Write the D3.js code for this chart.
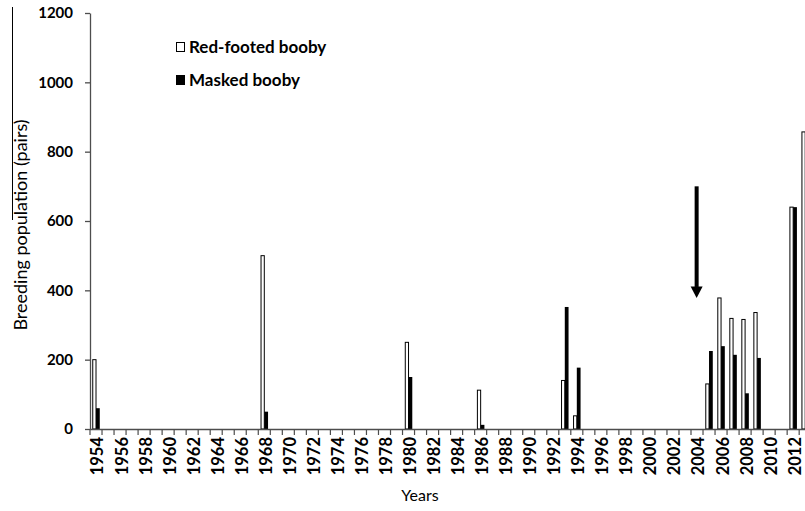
<!DOCTYPE html>
<html>
<head>
<meta charset="utf-8">
<script src="https://cdn.jsdelivr.net/npm/d3@7"></script>
<style>
  html, body { margin: 0; padding: 0; background: #fff; }
  svg { display: block; }
  text { font-family: Lato, "Open Sans", sans-serif; fill: #000; }
</style>
</head>
<body>
<svg id="chart" width="805" height="511"></svg>
<script>
// ---- data ----
const years = [
  1954,1955,1956,1957,1958,1959,1960,1961,1962,1963,
  1964,1965,1966,1967,1968,1969,1970,1971,1972,1973,
  1974,1975,1976,1977,1978,1979,1980,1981,1982,1983,
  1984,1985,1986,1987,1988,1989,1990,1991,1992,1993,
  1994,1995,1996,1997,1998,1999,2000,2001,2002,2003,
  2004,2005,2006,2007,2008,2009,2010,2011,2012,2013
];
const redFooted = [
  200,null,null,null,null,null,null,null,null,null,
  null,null,null,null,500,null,null,null,null,null,
  null,null,null,null,null,null,250,null,null,null,
  null,null,112,null,null,null,null,null,null,140,
  38,null,null,null,null,null,null,null,null,null,
  null,130,378,319,316,336,null,null,640,857
];
const masked = [
  60,null,null,null,null,null,null,null,null,null,
  null,null,null,null,50,null,null,null,null,null,
  null,null,null,null,null,null,150,null,null,null,
  null,null,12,null,null,null,null,null,null,352,
  177,null,null,null,null,null,null,null,null,null,
  null,225,239,214,103,205,null,null,640,null
];
const seriesNames = ["Red-footed booby", "Masked booby"];
const yTicks = [0, 200, 400, 600, 800, 1000, 1200];
const xLabelYears = years.filter(y => y % 2 === 0);
// annotation arrow (year, from value, to value)
const arrowYear = 2004, arrowFrom = 700, arrowTo = 378;

// ---- layout ----
const svg = d3.select("#chart");
const x0 = 90, yBase = 429, yTop = 13, step = 12.02;
const x = d3.scaleBand().domain(years)
  .range([x0, x0 + step * years.length])
  .paddingInner(0.375).paddingOuter(0.1875);
const xs = d3.scaleBand().domain(seriesNames).range([0, x.bandwidth()]);
const y = d3.scaleLinear().domain([0, 1200]).range([yBase, yTop]);
const axisColor = "#4d4d4d";

// bars
const rows = years.map((yr, i) => ({yr, r: redFooted[i], m: masked[i]}));
const g = svg.append("g");
g.selectAll("rect.red").data(rows.filter(d => d.r != null && d.r > 0)).join("rect")
  .attr("class", "red")
  .attr("x", d => x(d.yr) + xs(seriesNames[0]) + 0.5)
  .attr("width", xs.bandwidth() - 0.5)
  .attr("y", d => y(d.r))
  .attr("height", d => y(0) - y(d.r))
  .attr("fill", "#fff").attr("stroke", "#000").attr("stroke-width", 1);
g.selectAll("rect.msk").data(rows.filter(d => d.m != null && d.m > 0)).join("rect")
  .attr("class", "msk")
  .attr("x", d => x(d.yr) + xs(seriesNames[1]))
  .attr("width", xs.bandwidth())
  .attr("y", d => y(d.m))
  .attr("height", d => y(0) - y(d.m))
  .attr("fill", "#000");

// y axis
const yAxis = svg.append("g").attr("transform", `translate(${x0},0)`)
  .call(d3.axisLeft(y).tickValues(yTicks).tickFormat(d3.format("d"))
    .tickSize(5).tickPadding(12).tickSizeOuter(0));
yAxis.select(".domain").attr("stroke", axisColor).attr("stroke-width", 1.3);
yAxis.selectAll(".tick line").attr("stroke", axisColor).attr("stroke-width", 1.3);
yAxis.selectAll(".tick text").style("font-family", "Lato, sans-serif")
  .style("font-size", "15px").style("font-weight", "bold").attr("fill", "#000");

// x axis: ticks at category boundaries
const xAxis = svg.append("g").attr("transform", `translate(0,${yBase})`)
  .call(d3.axisBottom(x).tickSize(6).tickFormat("").tickSizeOuter(0));
xAxis.select(".domain").attr("stroke", axisColor).attr("stroke-width", 1.3)
  .attr("d", `M${x0},0.5H805`);
xAxis.selectAll(".tick line").attr("stroke", axisColor).attr("stroke-width", 1.2)
  .attr("transform", `translate(${-step / 2},0)`);

// x labels (every 2 years)
const xLab = svg.append("g").attr("transform", `translate(0,${yBase})`)
  .call(d3.axisBottom(x).tickValues(xLabelYears).tickSize(0).tickSizeOuter(0));
xLab.select(".domain").remove();
xLab.selectAll(".tick text")
  .attr("transform", "rotate(-90)")
  .attr("x", -8).attr("y", 1.5).attr("dy", "0.36em")
  .attr("text-anchor", "end")
  .style("font-family", "Lato, sans-serif")
  .style("font-size", "16.5px").style("font-weight", "bold").attr("fill", "#000");

// axis titles
svg.append("text")
  .attr("transform", `translate(27,225) rotate(-90)`)
  .attr("text-anchor", "middle")
  .style("font-size", "18px")
  .text("Breeding population (pairs)");
svg.append("line").attr("x1", 12.5).attr("x2", 12.5).attr("y1", 7).attr("y2", 220)
  .attr("stroke", "#000").attr("stroke-width", 1);
svg.append("text")
  .attr("x", 420).attr("y", 501)
  .attr("text-anchor", "middle")
  .style("font-size", "16px")
  .text("Years");

// legend
const leg = svg.append("g");
leg.append("rect").attr("x", 176.5).attr("y", 42.5).attr("width", 8).attr("height", 9)
  .attr("fill", "#fff").attr("stroke", "#000").attr("stroke-width", 1);
leg.append("text").attr("x", 189).attr("y", 53)
  .style("font-size", "17px").style("font-weight", "bold").text(seriesNames[0]);
leg.append("rect").attr("x", 176).attr("y", 75).attr("width", 9).attr("height", 10)
  .attr("fill", "#000");
leg.append("text").attr("x", 189).attr("y", 86)
  .style("font-size", "17px").style("font-weight", "bold").text(seriesNames[1]);

// arrow annotation
const ax = x(arrowYear) + x.bandwidth() * 0.45;
const headH = 11.5, headW = 12, shaftW = 4;
svg.append("rect")
  .attr("x", ax - shaftW / 2).attr("width", shaftW)
  .attr("y", y(arrowFrom)).attr("height", y(arrowTo) - headH - y(arrowFrom) + 0.5)
  .attr("fill", "#000");
svg.append("path")
  .attr("d", `M${ax - headW / 2},${y(arrowTo) - headH}L${ax + headW / 2},${y(arrowTo) - headH}L${ax},${y(arrowTo)}Z`)
  .attr("fill", "#000");
</script>
</body>
</html>
